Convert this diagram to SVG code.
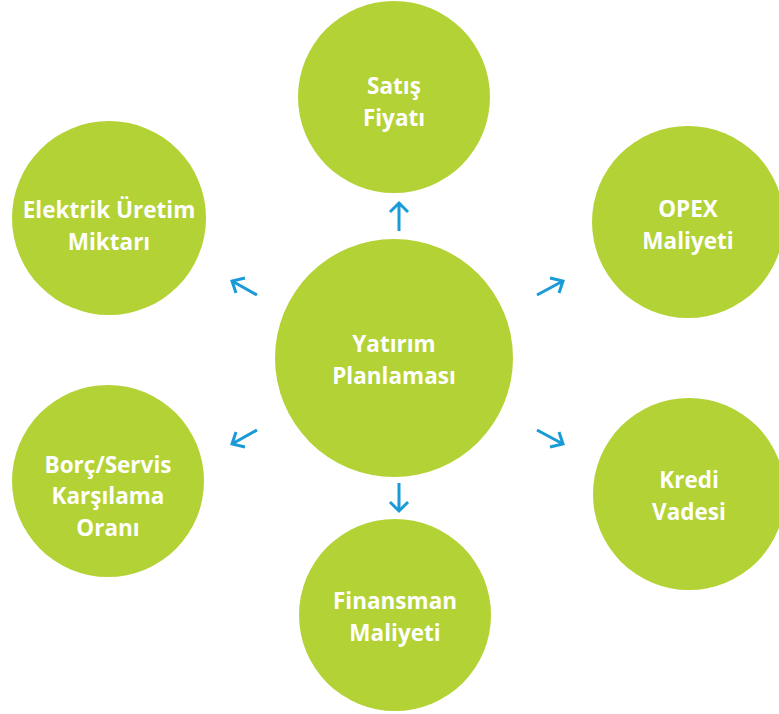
<svg xmlns="http://www.w3.org/2000/svg" width="779" height="714" viewBox="0 0 779 714">
<style>
.n{fill:#b3d235}
.t{fill:#fff;font-family:"Open Sans",sans-serif;font-weight:700;font-size:22.5px;text-anchor:middle}
.a{stroke:#1a9bd7;stroke-width:3;fill:none;stroke-linecap:butt}
</style>
<rect width="779" height="714" fill="#fff"/>
<g id="center"><circle class="n" cx="394" cy="358" r="119"/><text class="t" x="394" y="352">Yatırım</text><text class="t" x="394" y="384">Planlaması</text></g>
<g id="satis"><circle class="n" cx="394" cy="97" r="96"/><text class="t" x="394" y="94">Satış</text><text class="t" x="394" y="126">Fiyatı</text></g>
<g id="elektrik"><circle class="n" cx="109" cy="218" r="97"/><text class="t" x="109" y="218">Elektrik Üretim</text><text class="t" x="109" y="250">Miktarı</text></g>
<g id="opex"><circle class="n" cx="688" cy="222" r="96"/><text class="t" x="688" y="217">OPEX</text><text class="t" x="688" y="249">Maliyeti</text></g>
<g id="borc"><circle class="n" cx="108" cy="481" r="96"/><text class="t" x="108" y="473">Borç/Servis</text><text class="t" x="108" y="504">Karşılama</text><text class="t" x="108" y="536">Oranı</text></g>
<g id="kredi"><circle class="n" cx="689" cy="494" r="96"/><text class="t" x="689" y="488">Kredi</text><text class="t" x="689" y="520">Vadesi</text></g>
<g id="finansman"><circle class="n" cx="395" cy="615" r="96"/><text class="t" x="395" y="609">Finansman</text><text class="t" x="395" y="641">Maliyeti</text></g>
<g id="connectors">
<path class="a" d="M399 231V203M390 212L399 203L408 212"/>
<path class="a" d="M399 483V511M390 502L399 511L408 502"/>
<path class="a" d="M257 295L232 281M236 293L232 281L245 278"/>
<path class="a" d="M537 295L563 281M550 278L563 281L559 293"/>
<path class="a" d="M257 430L232 444M236 432L232 444L245 447"/>
<path class="a" d="M537 430L563 444M559 432L563 444L550 447"/>
</g>
</svg>
